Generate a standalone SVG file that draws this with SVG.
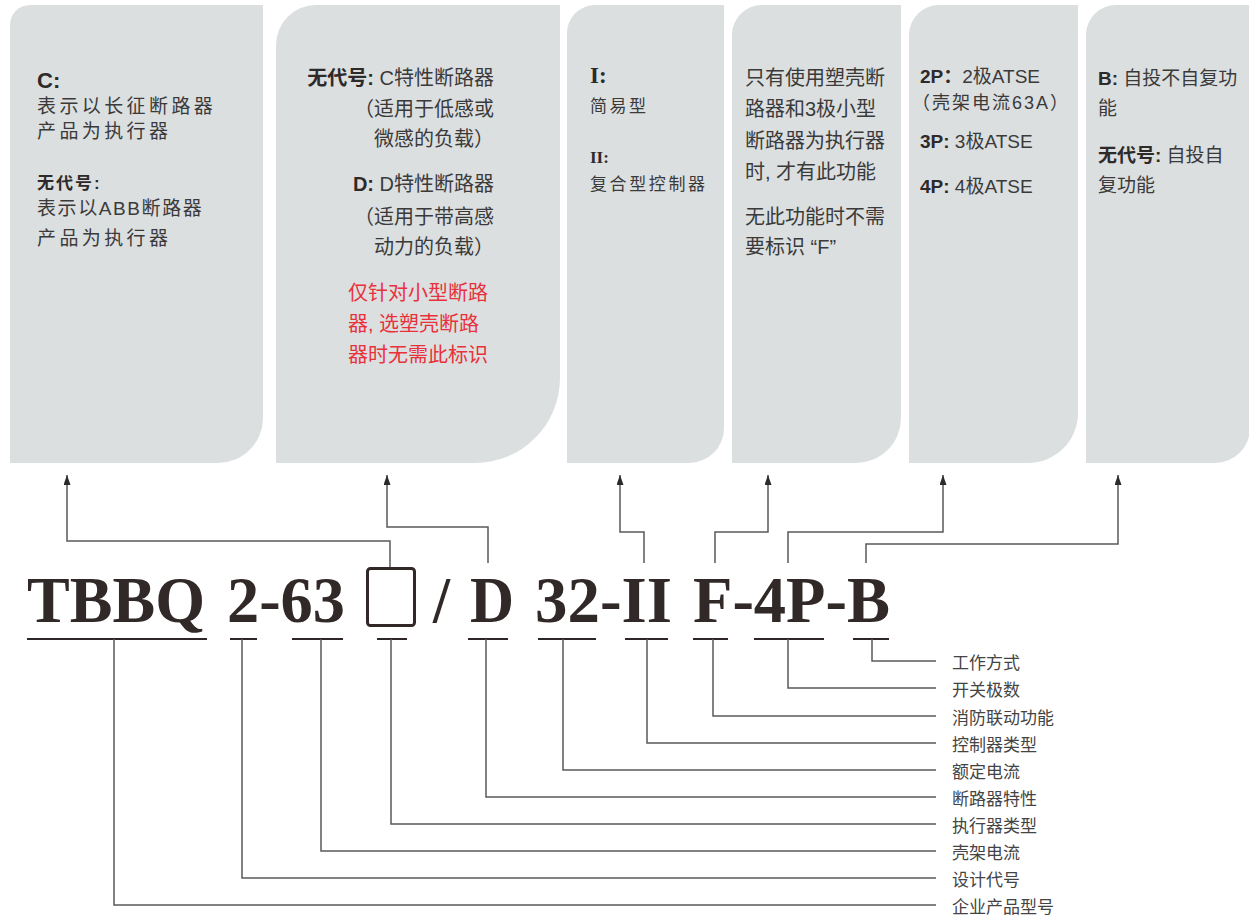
<svg xmlns="http://www.w3.org/2000/svg" width="1249" height="918" viewBox="0 0 1249 918">
<style>
.panel{fill:#dcdfe0}
.t{font-family:"Liberation Sans","Noto Sans CJK SC",sans-serif;fill:#3a3a3a}
.b{font-weight:bold;fill:#2e2a2a}
.red{fill:#e8313a}
.ser{font-family:"Liberation Serif","Noto Serif",serif;font-weight:bold;fill:#2e2a2a}
.code{font-family:"Liberation Serif",serif;font-weight:bold;font-size:65px;fill:#312828}
.lbl{font-family:"Liberation Sans","Noto Sans CJK SC",sans-serif;font-size:17px;fill:#444}
.ul{stroke:#2e2626;stroke-width:2}
.con{fill:none;stroke:#5a5a5a;stroke-width:1.5}
</style>
<defs>
<marker id="arr" viewBox="0 0 10 7" markerWidth="10" markerHeight="7" refX="10" refY="3.5" orient="auto" markerUnits="userSpaceOnUse">
<path d="M0,0 L10,3.5 L0,7 Z" fill="#2e2a2a"/>
</marker>
</defs>

<g id="panel-executor">
<path class="panel" d="M10,463 V25 A20,20 0 0 1 30,5 H263 V418 A45,45 0 0 1 218,463 Z"/>
<text class="t b" x="37" y="88" style="font-size:22px">C:</text>
<text class="t" x="37" y="113" style="font-size:19px;letter-spacing:3.4px">表示以长征断路器</text>
<text class="t" x="37" y="138" style="font-size:19px;letter-spacing:3.4px">产品为执行器</text>
<text class="t b" x="37" y="189" style="font-size:17px;letter-spacing:2px">无代号:</text>
<text class="t" x="37" y="215" style="font-size:19px;letter-spacing:1.6px">表示以ABB断路器</text>
<text class="t" x="37" y="245" style="font-size:19px;letter-spacing:3.4px">产品为执行器</text>
</g>

<g id="panel-breaker">
<path class="panel" d="M276,463 V45 A40,40 0 0 1 316,5 H560 V378 A85,85 0 0 1 475,463 Z"/>
<text class="t" x="494" y="85" text-anchor="end" style="font-size:20px"><tspan class="b">无代号:</tspan> C特性断路器</text>
<text class="t" x="494" y="116" text-anchor="end" style="font-size:20px">（适用于低感或</text>
<text class="t" x="494" y="146" text-anchor="end" style="font-size:20px">微感的负载）</text>
<text class="t" x="494" y="191" text-anchor="end" style="font-size:20px"><tspan class="b">D:</tspan> D特性断路器</text>
<text class="t" x="494" y="224" text-anchor="end" style="font-size:20px">（适用于带高感</text>
<text class="t" x="494" y="254" text-anchor="end" style="font-size:20px">动力的负载）</text>
<text class="t red" x="348" y="300" style="font-size:20px">仅针对小型断路</text>
<text class="t red" x="348" y="331" style="font-size:20px">器, 选塑壳断路</text>
<text class="t red" x="348" y="362" style="font-size:20px">器时无需此标识</text>
</g>

<g id="panel-controller">
<path class="panel" d="M567,463 V33 A28,28 0 0 1 595,5 H724 V428 A35,35 0 0 1 689,463 Z"/>
<text class="ser" x="590" y="83" style="font-size:23px">I:</text>
<text class="t" x="590" y="112" style="font-size:17px;letter-spacing:2.5px">简易型</text>
<text class="ser" x="590" y="163" style="font-size:17px">II:</text>
<text class="t" x="590" y="190" style="font-size:17px;letter-spacing:2.6px">复合型控制器</text>
</g>

<g id="panel-fire">
<path class="panel" d="M732,463 V35 A30,30 0 0 1 762,5 H901 V418 A45,45 0 0 1 856,463 Z"/>
<text class="t" x="745" y="85" style="font-size:20px">只有使用塑壳断</text>
<text class="t" x="745" y="116" style="font-size:20px">路器和3极小型</text>
<text class="t" x="745" y="148" style="font-size:20px">断路器为执行器</text>
<text class="t" x="745" y="179" style="font-size:20px">时, 才有此功能</text>
<text class="t" x="745" y="224" style="font-size:20px">无此功能时不需</text>
<text class="t" x="745" y="254" style="font-size:20px">要标识 “F”</text>
</g>

<g id="panel-poles">
<path class="panel" d="M909,463 V35 A30,30 0 0 1 939,5 H1078 V413 A50,50 0 0 1 1028,463 Z"/>
<text class="t" x="920" y="83" style="font-size:19px"><tspan class="b">2P：</tspan>2极ATSE</text>
<text class="t" x="912" y="109" style="font-size:18px;letter-spacing:2px">（壳架电流63A）</text>
<text class="t" x="920" y="148" style="font-size:19px"><tspan class="b">3P:</tspan> 3极ATSE</text>
<text class="t" x="920" y="193" style="font-size:19px"><tspan class="b">4P:</tspan> 4极ATSE</text>
</g>

<g id="panel-mode">
<path class="panel" d="M1086,463 V35 A30,30 0 0 1 1116,5 H1250 V428 A35,35 0 0 1 1215,463 Z"/>
<text class="t" x="1098" y="85" style="font-size:19px"><tspan class="b">B:</tspan> 自投不自复功</text>
<text class="t" x="1098" y="115" style="font-size:19px">能</text>
<text class="t" x="1098" y="162" style="font-size:19px"><tspan class="b">无代号:</tspan> 自投自</text>
<text class="t" x="1098" y="192" style="font-size:19px">复功能</text>
</g>

<g id="model-code">
<text class="code" x="27" y="622" textLength="178" lengthAdjust="spacingAndGlyphs">TBBQ</text>
<text class="code" x="227" y="622" textLength="118" lengthAdjust="spacingAndGlyphs">2-63</text>
<rect x="367.5" y="568.5" width="47" height="57" rx="3" fill="none" stroke="#312828" stroke-width="3"/>
<text class="code" x="433" y="622" textLength="17" lengthAdjust="spacingAndGlyphs">/</text>
<text class="code" x="470" y="622" textLength="44" lengthAdjust="spacingAndGlyphs">D</text>
<text class="code" x="535" y="622" textLength="137" lengthAdjust="spacingAndGlyphs">32-II</text>
<text class="code" x="693" y="622" textLength="197" lengthAdjust="spacingAndGlyphs">F-4P-B</text>
<line class="ul" x1="27" y1="639" x2="207" y2="639"/>
<line class="ul" x1="230" y1="639" x2="257" y2="639"/>
<line class="ul" x1="292" y1="639" x2="343" y2="639"/>
<line class="ul" x1="377" y1="639" x2="407" y2="639"/>
<line class="ul" x1="468" y1="639" x2="508" y2="639"/>
<line class="ul" x1="538" y1="639" x2="596" y2="639"/>
<line class="ul" x1="625" y1="639" x2="668" y2="639"/>
<line class="ul" x1="693" y1="639" x2="728" y2="639"/>
<line class="ul" x1="754" y1="639" x2="824" y2="639"/>
<line class="ul" x1="853" y1="639" x2="889" y2="639"/>
</g>

<g id="labels">
<text class="lbl" x="952" y="669">工作方式</text>
<text class="lbl" x="952" y="696">开关极数</text>
<text class="lbl" x="952" y="724">消防联动功能</text>
<text class="lbl" x="952" y="751">控制器类型</text>
<text class="lbl" x="952" y="778">额定电流</text>
<text class="lbl" x="952" y="805">断路器特性</text>
<text class="lbl" x="952" y="832">执行器类型</text>
<text class="lbl" x="952" y="859">壳架电流</text>
<text class="lbl" x="952" y="886">设计代号</text>
<text class="lbl" x="952" y="913">企业产品型号</text>
</g>

<g id="connectors">
<path class="con" marker-end="url(#arr)" d="M390,567 V541 H67 V475"/>
<path class="con" marker-end="url(#arr)" d="M488,563 V527 H387 V475"/>
<path class="con" marker-end="url(#arr)" d="M644,563 V532 H620 V475"/>
<path class="con" marker-end="url(#arr)" d="M715,563 V532 H768 V475"/>
<path class="con" marker-end="url(#arr)" d="M788,563 V532 H943 V475"/>
<path class="con" marker-end="url(#arr)" d="M866,563 V544 H1118 V475"/>
<path class="con" d="M872,639 V661 H936"/>
<path class="con" d="M788,639 V688 H936"/>
<path class="con" d="M713,639 V716 H936"/>
<path class="con" d="M647,639 V743 H936"/>
<path class="con" d="M563,639 V770 H936"/>
<path class="con" d="M486,639 V797 H936"/>
<path class="con" d="M391,639 V824 H936"/>
<path class="con" d="M321,639 V851 H936"/>
<path class="con" d="M242,639 V878 H936"/>
<path class="con" d="M114,639 V905 H936"/>
</g>
</svg>
